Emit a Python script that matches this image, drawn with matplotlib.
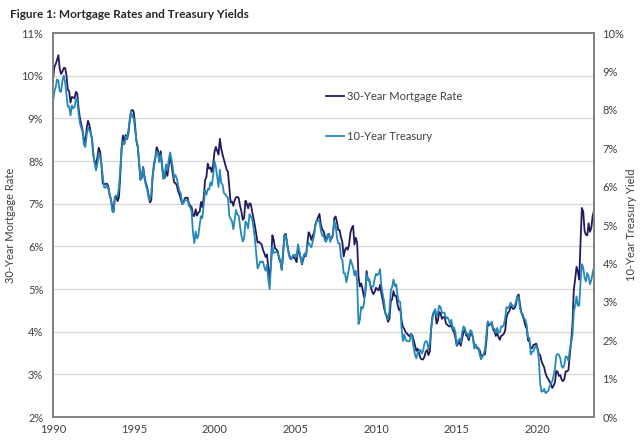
import matplotlib
matplotlib.use("Agg")
import matplotlib.pyplot as plt
import numpy as np
from matplotlib.ticker import FuncFormatter

# monthly averages, Jan 1990 - Jul 2023
mortgage_30y = [
    9.90, 10.20, 10.27, 10.37, 10.48, 10.16, 10.04, 10.10, 10.18, 10.18, 10.01, 9.67,
    9.64, 9.37, 9.50, 9.49, 9.47, 9.62, 9.58, 9.24, 9.01, 8.86, 8.71, 8.50,
    8.43, 8.76, 8.94, 8.85, 8.67, 8.51, 8.13, 7.98, 7.92, 8.09, 8.31, 8.22,
    7.91, 7.47, 7.46, 7.46, 7.47, 7.42, 7.21, 7.11, 6.92, 6.83, 7.16, 7.17,
    7.06, 7.15, 7.68, 8.32, 8.60, 8.40, 8.61, 8.51, 8.64, 8.93, 9.17, 9.20,
    9.15, 8.83, 8.46, 8.32, 7.96, 7.57, 7.61, 7.86, 7.64, 7.48, 7.38, 7.20,
    7.03, 7.08, 7.62, 7.93, 8.07, 8.32, 8.25, 8.00, 8.23, 7.92, 7.62, 7.60,
    7.82, 7.65, 7.90, 8.14, 7.94, 7.69, 7.50, 7.48, 7.43, 7.29, 7.21, 7.10,
    6.99, 7.04, 7.13, 7.14, 7.14, 7.00, 6.95, 6.92, 6.72, 6.71, 6.87, 6.72,
    6.79, 6.81, 7.04, 6.92, 7.15, 7.55, 7.63, 7.94, 7.82, 7.85, 7.74, 7.91,
    8.21, 8.33, 8.24, 8.15, 8.52, 8.29, 8.15, 8.03, 7.91, 7.80, 7.75, 7.38,
    7.03, 7.05, 6.95, 7.08, 7.15, 7.16, 7.13, 6.95, 6.82, 6.62, 6.66, 7.07,
    7.00, 6.89, 7.01, 6.99, 6.81, 6.65, 6.49, 6.29, 6.09, 6.11, 6.07, 6.05,
    5.92, 5.84, 5.75, 5.81, 5.48, 5.23, 5.63, 6.26, 6.15, 5.95, 5.93, 5.88,
    5.71, 5.64, 5.45, 5.83, 6.27, 6.29, 6.06, 5.87, 5.75, 5.72, 5.73, 5.75,
    5.71, 5.63, 5.93, 5.86, 5.72, 5.58, 5.70, 5.82, 5.77, 6.07, 6.33, 6.27,
    6.15, 6.25, 6.32, 6.51, 6.60, 6.68, 6.76, 6.52, 6.40, 6.36, 6.24, 6.14,
    6.22, 6.29, 6.16, 6.18, 6.26, 6.66, 6.70, 6.57, 6.38, 6.38, 6.21, 6.10,
    5.76, 5.92, 5.97, 5.92, 6.04, 6.32, 6.43, 6.48, 6.04, 6.20, 6.09, 5.29,
    5.06, 5.13, 5.00, 4.81, 4.86, 5.42, 5.22, 5.19, 5.06, 4.95, 4.88, 4.93,
    5.03, 4.99, 4.97, 5.10, 4.89, 4.74, 4.56, 4.43, 4.35, 4.23, 4.30, 4.71,
    4.76, 4.95, 4.84, 4.84, 4.64, 4.51, 4.55, 4.27, 4.11, 4.07, 3.99, 3.96,
    3.92, 3.89, 3.95, 3.91, 3.80, 3.68, 3.55, 3.60, 3.50, 3.38, 3.35, 3.35,
    3.41, 3.53, 3.57, 3.45, 3.54, 4.07, 4.37, 4.46, 4.49, 4.19, 4.26, 4.46,
    4.43, 4.30, 4.34, 4.34, 4.19, 4.16, 4.13, 4.12, 4.16, 4.04, 4.00, 3.86,
    3.67, 3.71, 3.77, 3.67, 3.84, 3.98, 4.05, 3.91, 3.89, 3.80, 3.94, 3.96,
    3.87, 3.66, 3.69, 3.61, 3.60, 3.57, 3.44, 3.44, 3.46, 3.47, 3.77, 4.20,
    4.15, 4.17, 4.20, 4.05, 4.01, 3.90, 3.97, 3.88, 3.81, 3.90, 3.92, 3.95,
    4.03, 4.33, 4.44, 4.47, 4.59, 4.57, 4.53, 4.55, 4.63, 4.83, 4.87, 4.64,
    4.46, 4.37, 4.27, 4.14, 4.07, 3.80, 3.77, 3.62, 3.61, 3.69, 3.70, 3.72,
    3.62, 3.47, 3.45, 3.31, 3.23, 3.16, 3.02, 2.94, 2.89, 2.83, 2.77, 2.68,
    2.74, 2.81, 3.08, 3.06, 2.96, 2.98, 2.87, 2.84, 2.90, 3.07, 3.07, 3.10,
    3.45, 3.76, 4.17, 4.98, 5.23, 5.52, 5.41, 5.22, 6.11, 6.90, 6.81, 6.36,
    6.27, 6.26, 6.54, 6.34, 6.43, 6.71, 6.84,
]

treasury_10y = [
    8.21, 8.47, 8.59, 8.79, 8.76, 8.48, 8.47, 8.75, 8.89, 8.72, 8.39, 8.08,
    8.09, 7.85, 8.11, 8.04, 8.07, 8.28, 8.27, 7.90, 7.65, 7.53, 7.42, 7.09,
    7.03, 7.34, 7.54, 7.48, 7.39, 7.26, 6.84, 6.59, 6.42, 6.59, 6.87, 6.77,
    6.60, 6.26, 5.98, 5.97, 6.04, 5.96, 5.81, 5.68, 5.36, 5.33, 5.72, 5.77,
    5.75, 5.97, 6.48, 6.97, 7.18, 7.10, 7.30, 7.24, 7.46, 7.74, 7.96, 7.81,
    7.78, 7.47, 7.20, 7.06, 6.63, 6.17, 6.28, 6.49, 6.20, 6.04, 5.93, 5.71,
    5.65, 5.81, 6.27, 6.51, 6.74, 6.91, 6.87, 6.64, 6.83, 6.53, 6.20, 6.30,
    6.58, 6.42, 6.69, 6.89, 6.71, 6.49, 6.22, 6.30, 6.21, 6.03, 5.88, 5.81,
    5.54, 5.57, 5.65, 5.64, 5.65, 5.50, 5.46, 5.34, 4.81, 4.53, 4.83, 4.65,
    4.72, 5.00, 5.23, 5.18, 5.54, 5.90, 5.79, 5.94, 5.92, 6.11, 6.03, 6.28,
    6.66, 6.52, 6.26, 5.99, 6.44, 6.10, 6.05, 5.83, 5.80, 5.74, 5.72, 5.24,
    5.16, 5.10, 4.89, 5.14, 5.39, 5.28, 5.24, 4.97, 4.73, 4.57, 4.65, 5.09,
    5.04, 4.91, 5.28, 5.21, 5.16, 4.93, 4.65, 4.26, 3.87, 3.94, 4.05, 4.03,
    4.05, 3.90, 3.81, 3.96, 3.57, 3.33, 3.98, 4.45, 4.27, 4.29, 4.30, 4.27,
    4.15, 4.08, 3.83, 4.35, 4.72, 4.73, 4.50, 4.28, 4.13, 4.10, 4.19, 4.23,
    4.22, 4.17, 4.50, 4.34, 4.14, 4.00, 4.18, 4.26, 4.20, 4.46, 4.54, 4.47,
    4.42, 4.57, 4.72, 4.99, 5.11, 5.11, 5.09, 4.88, 4.72, 4.73, 4.60, 4.56,
    4.76, 4.72, 4.56, 4.69, 4.75, 5.10, 5.00, 4.67, 4.52, 4.53, 4.15, 4.10,
    3.74, 3.74, 3.51, 3.68, 3.88, 4.10, 4.01, 3.89, 3.69, 3.81, 3.53, 2.42,
    2.52, 2.87, 2.82, 2.93, 3.29, 3.72, 3.56, 3.59, 3.40, 3.39, 3.40, 3.59,
    3.73, 3.69, 3.73, 3.85, 3.42, 3.20, 3.01, 2.70, 2.65, 2.54, 2.76, 3.29,
    3.39, 3.58, 3.41, 3.46, 3.17, 3.00, 3.00, 2.30, 1.98, 2.15, 2.01, 1.98,
    1.97, 1.97, 2.17, 2.05, 1.80, 1.62, 1.53, 1.68, 1.72, 1.75, 1.65, 1.72,
    1.91, 1.98, 1.96, 1.76, 1.93, 2.30, 2.58, 2.74, 2.81, 2.62, 2.72, 2.90,
    2.86, 2.71, 2.72, 2.71, 2.56, 2.60, 2.54, 2.42, 2.53, 2.30, 2.33, 2.21,
    1.88, 1.98, 2.04, 1.94, 2.20, 2.36, 2.32, 2.17, 2.17, 2.07, 2.26, 2.24,
    2.09, 1.78, 1.89, 1.81, 1.81, 1.64, 1.50, 1.56, 1.63, 1.76, 2.14, 2.49,
    2.43, 2.42, 2.48, 2.30, 2.30, 2.19, 2.32, 2.21, 2.20, 2.36, 2.35, 2.40,
    2.58, 2.86, 2.84, 2.87, 2.98, 2.91, 2.89, 2.89, 3.00, 3.15, 3.12, 2.83,
    2.71, 2.68, 2.57, 2.53, 2.40, 2.07, 2.06, 1.63, 1.70, 1.71, 1.81, 1.86,
    1.76, 1.50, 0.87, 0.66, 0.67, 0.73, 0.62, 0.65, 0.68, 0.79, 0.87, 0.93,
    1.08, 1.26, 1.61, 1.64, 1.62, 1.52, 1.32, 1.28, 1.37, 1.58, 1.56, 1.47,
    1.76, 1.93, 2.13, 2.75, 2.90, 3.14, 2.90, 2.90, 3.52, 3.98, 3.89, 3.62,
    3.53, 3.75, 3.66, 3.46, 3.57, 3.75, 3.90,
]

start_year = 1990
year_ticks = [1990, 1995, 2000, 2005, 2010, 2015, 2020]

dates = start_year + np.arange(len(mortgage_30y)) / 12.0

navy = "#211a5e"
teal = "#2489b8"
txt = "#404040"

plt.rcParams['font.family'] = ['Lato', 'DejaVu Sans']

fig = plt.figure(figsize=(6.4, 4.4), dpi=100)
ax = fig.add_axes([53/640, 23/440, 541/640, 384/440])
ax2 = ax.twinx()

ax.plot(dates, mortgage_30y, color=navy, linewidth=1.3, label="30-Year Mortgage Rate")
ax2.plot(dates, treasury_10y, color=teal, linewidth=1.3, label="10-Year Treasury")

ax.set_xlim(start_year, 2023.5)
ax.set_ylim(2, 11)
ax2.set_ylim(0, 10)
ax.set_xticks(year_ticks)
ax.set_yticks(range(2, 12))
ax2.set_yticks(range(0, 11))
pct = FuncFormatter(lambda v, p: f"{v:.0f}%")
ax.yaxis.set_major_formatter(pct)
ax2.yaxis.set_major_formatter(pct)

ax.grid(axis='y', color="#d9d9d9", linewidth=1)
ax.set_axisbelow(True)
for a in (ax, ax2):
    a.tick_params(length=0, labelsize=8, colors=txt, pad=7)
    for s in a.spines.values():
        s.set_color("#808080")
        s.set_linewidth(1.2)
ax.tick_params(axis='x', pad=5)
ax2.tick_params(axis='y', pad=6)

ax.set_ylabel("30-Year Mortgage Rate", fontsize=8, color=txt, labelpad=4)
ax2.set_ylabel("10-Year Treasury Yield", fontsize=8, color=txt, labelpad=1)

fig.text(10/640, 1 - 14/440, "Figure 1: Mortgage Rates and Treasury Yields",
         fontsize=8.5, fontweight='bold', color="#262626", va='center')

h1, l1 = ax.get_legend_handles_labels()
h2, l2 = ax2.get_legend_handles_labels()
ax2.legend(h1 + h2, l1 + l2, loc='upper left', bbox_to_anchor=(326/640, 1 - 91/440),
           bbox_transform=fig.transFigure, frameon=False, fontsize=8,
           handlelength=1.6, handletextpad=0.3, labelspacing=2.6,
           borderpad=0, borderaxespad=0, labelcolor=txt)

fig.savefig("out.png", dpi=100)
